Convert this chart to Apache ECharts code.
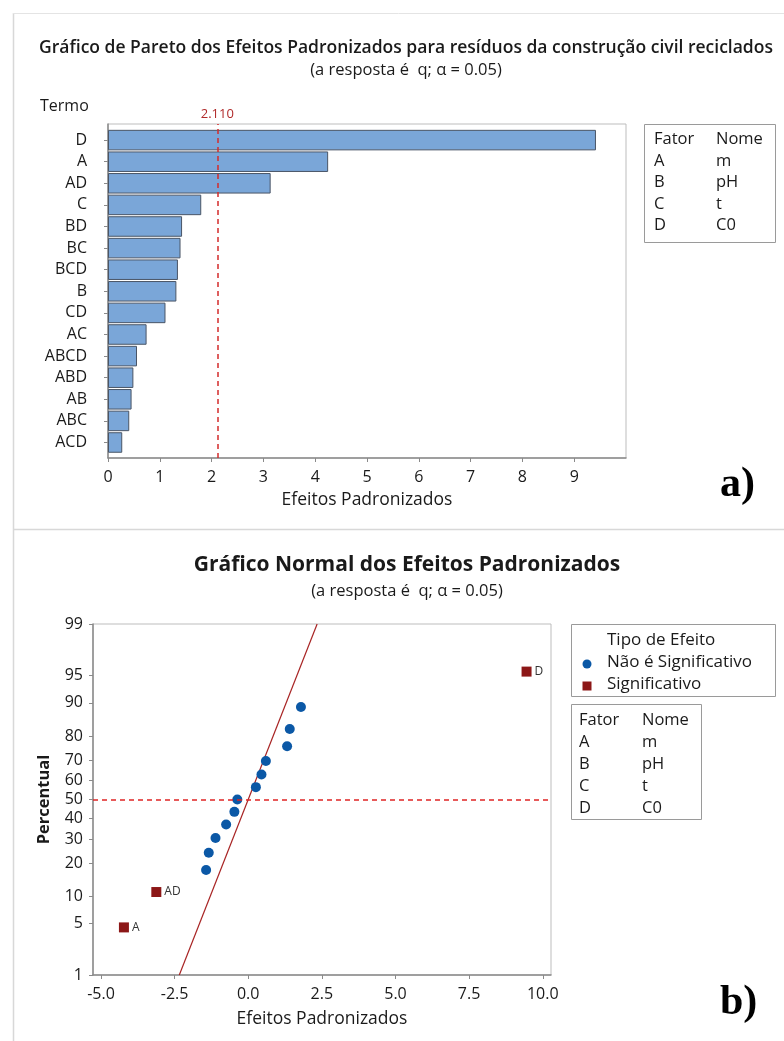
<!DOCTYPE html>
<html>
<head>
<meta charset="utf-8">
<script src="https://cdn.jsdelivr.net/npm/echarts@6/dist/echarts.min.js"></script>
<style>
html,body{margin:0;padding:0;background:#fff;}
#c{width:784px;height:1041px;}
</style>
</head>
<body>
<div id="c"></div>
<script>
// ---------- DATA ----------
var paretoTerms = ['D','A','AD','C','BD','BC','BCD','B','CD','AC','ABCD','ABD','AB','ABC','ACD'];
var paretoEffects = [9.42,4.25,3.14,1.80,1.43,1.40,1.35,1.32,1.11,0.745,0.56,0.49,0.455,0.41,0.275];
var paretoTicks = [0,1,2,3,4,5,6,7,8,9];
var criticalValue = 2.110;

var factorCodes = ['A','B','C','D'];
var factorNames = ['m','pH','t','C0'];

var nsEffects = [-1.43,-1.34,-1.11,-0.75,-0.47,-0.37,0.26,0.45,0.60,1.32,1.41,1.79];
var nsPercent = [17.5,24.0,30.5,37.0,43.5,50.0,56.5,63.0,69.5,76.0,82.5,89.0];
var sigTerms = ['A','AD','D'];
var sigEffects = [-4.22,-3.12,9.45];
var sigPercent = [4.5,11.0,95.5];
var fitEffects = [-2.34,2.34];
var fitPercent = [1,99];
var percentTicks = [1,5,10,20,30,40,50,60,70,80,90,95,99];
var effectTicks = [-5,-2.5,0,2.5,5,7.5,10];
var refPercent = 50;

// inverse normal CDF (probability-scale axis transform)
function probit(p){
  var a=[-3.969683028665376e+01,2.209460984245205e+02,-2.759285104469687e+02,1.383577518672690e+02,-3.066479806614716e+01,2.506628277459239e+00];
  var b=[-5.447609879822406e+01,1.615858368580409e+02,-1.556989798598866e+02,6.680131188771972e+01,-1.328068155288572e+01];
  var c=[-7.784894002430293e-03,-3.223964580411365e-01,-2.400758277161838e+00,-2.549732539343734e+00,4.374664141464968e+00,2.938163982698783e+00];
  var d=[7.784695709041462e-03,3.224671290700398e-01,2.445134137142996e+00,3.754408661907416e+00];
  var pl=0.02425,ph=1-pl,q,r;
  if(p<pl){q=Math.sqrt(-2*Math.log(p));return (((((c[0]*q+c[1])*q+c[2])*q+c[3])*q+c[4])*q+c[5])/((((d[0]*q+d[1])*q+d[2])*q+d[3])*q+1);}
  if(p<=ph){q=p-0.5;r=q*q;return (((((a[0]*r+a[1])*r+a[2])*r+a[3])*r+a[4])*r+a[5])*q/(((((b[0]*r+b[1])*r+b[2])*r+b[3])*r+b[4])*r+1);}
  q=Math.sqrt(-2*Math.log(1-p));return -(((((c[0]*q+c[1])*q+c[2])*q+c[3])*q+c[4])*q+c[5])/((((d[0]*q+d[1])*q+d[2])*q+d[3])*q+1);
}
function z(pct){return probit(pct/100);}
var zTicks = percentTicks.map(z);
var zMin = z(1), zMax = z(99);

var FONT = '"Open Sans", "Noto Sans", sans-serif';
var TXT = '#1a1a1a';
var BLUE = '#0b58a6';
var DRED = '#8c1717';

var chart = echarts.init(document.getElementById('c'), null, {renderer:'canvas'});

function tableTexts(x1,x2,y0,dy,fs){
  var els=[];
  var rows=[['Fator','Nome']];
  for(var i=0;i<factorCodes.length;i++) rows.push([factorCodes[i],factorNames[i]]);
  rows.forEach(function(r,i){
    els.push({type:'text',x:x1,y:y0+i*dy,style:{text:r[0],font:fs+'px '+FONT,fill:TXT,verticalAlign:'middle'}});
    els.push({type:'text',x:x2,y:y0+i*dy,style:{text:r[1],font:fs+'px '+FONT,fill:TXT,verticalAlign:'middle'}});
  });
  return els;
}

var graphics = [
  {type:'line',shape:{x1:13.5,y1:13,x2:13.5,y2:1041},style:{stroke:'#d8d8d8',lineWidth:1.5}},
  {type:'line',shape:{x1:13,y1:13.5,x2:784,y2:13.5},style:{stroke:'#e4e4e4',lineWidth:1}},
  {type:'line',shape:{x1:13,y1:529.5,x2:784,y2:529.5},style:{stroke:'#d8d8d8',lineWidth:1.5}},
  {type:'text',x:40,y:106,style:{text:'Termo',font:'16px '+FONT,fill:TXT,verticalAlign:'middle'}},
  {type:'rect',shape:{x:644.5,y:124.5,width:131,height:118},style:{fill:'none',stroke:'#9a9a9a',lineWidth:1}},
  {type:'text',x:720,y:485,style:{text:'a)',font:'bold 42px "Liberation Serif", "DejaVu Serif", serif',fill:'#000',verticalAlign:'middle'}},
  {type:'text',x:720,y:1003,style:{text:'b)',font:'bold 42px "Liberation Serif", "DejaVu Serif", serif',fill:'#000',verticalAlign:'middle'}},
  {type:'rect',shape:{x:571.5,y:624.5,width:204,height:72},style:{fill:'none',stroke:'#9a9a9a',lineWidth:1}},
  {type:'text',x:607,y:640,style:{text:'Tipo de Efeito',font:'17px '+FONT,fill:TXT,verticalAlign:'middle'}},
  {type:'text',x:607,y:662,style:{text:'Não é Significativo',font:'17px '+FONT,fill:TXT,verticalAlign:'middle'}},
  {type:'text',x:607,y:684,style:{text:'Significativo',font:'17px '+FONT,fill:TXT,verticalAlign:'middle'}},
  {type:'circle',shape:{cx:587,cy:664,r:4.5},style:{fill:BLUE}},
  {type:'rect',shape:{x:582.5,y:681.5,width:9,height:9},style:{fill:DRED}},
  {type:'rect',shape:{x:571.5,y:704.5,width:130,height:115},style:{fill:'none',stroke:'#9a9a9a',lineWidth:1}}
].concat(tableTexts(654,716,139.5,21.5,16.5)).concat(tableTexts(579,642,720,22,16.5));

var option = {
  animation:false,
  backgroundColor:'#fff',
  textStyle:{fontFamily:FONT},
  title:[
    {text:'Gráfico de Pareto dos Efeitos Padronizados para resíduos da construção civil reciclados',
     subtext:'(a resposta é  q; α = 0.05)', left:401, top:34, textAlign:'center', itemGap:5,
     textStyle:{fontSize:17.5,fontWeight:600,color:TXT,fontFamily:FONT},
     subtextStyle:{fontSize:16.5,color:TXT,fontFamily:FONT}},
    {text:'Gráfico Normal dos Efeitos Padronizados',
     subtext:'(a resposta é  q; α = 0.05)', left:402, top:550, textAlign:'center', itemGap:7,
     textStyle:{fontSize:21,fontWeight:'bold',color:TXT,fontFamily:FONT},
     subtextStyle:{fontSize:16.5,color:TXT,fontFamily:FONT}}
  ],
  grid:[
    {left:108,top:124,width:518,height:334,show:true,borderColor:'#bdbdbd',borderWidth:1,containLabel:false},
    {left:108,top:129.3,width:518,height:324,containLabel:false},
    {left:93,top:624,width:458,height:351,show:true,borderColor:'#bdbdbd',borderWidth:1,containLabel:false}
  ],
  xAxis:[
    {gridIndex:0,type:'value',min:0,max:10,interval:1,
     axisLine:{show:true,lineStyle:{color:'#8a8a8a',width:1.5}},
     axisTick:{show:true,length:4,lineStyle:{color:'#8a8a8a'},customValues:paretoTicks},
     axisLabel:{color:TXT,fontSize:16,margin:11,customValues:paretoTicks},
     splitLine:{show:false},
     name:'Efeitos Padronizados',nameLocation:'middle',nameGap:33,
     nameTextStyle:{fontSize:17.5,color:TXT}},
    {gridIndex:1,type:'value',min:0,max:10,show:false},
    {gridIndex:2,type:'value',min:-5.27,max:10.28,
     axisLine:{show:true,onZero:false,lineStyle:{color:'#8a8a8a',width:1.5}},
     axisTick:{show:true,length:4,lineStyle:{color:'#8a8a8a'},customValues:effectTicks},
     axisLabel:{color:TXT,fontSize:16,margin:11,customValues:effectTicks,formatter:function(v){return v.toFixed(1);}},
     splitLine:{show:false},
     name:'Efeitos Padronizados',nameLocation:'middle',nameGap:35,
     nameTextStyle:{fontSize:17.5,color:TXT}}
  ],
  yAxis:[
    {gridIndex:0,type:'value',min:0,max:1,
     axisLine:{show:true,lineStyle:{color:'#8a8a8a',width:1.5}},
     axisTick:{show:false},axisLabel:{show:false},splitLine:{show:false}},
    {gridIndex:1,type:'category',data:paretoTerms,inverse:true,
     axisLine:{show:false},
     axisTick:{show:true,alignWithLabel:true,length:4,lineStyle:{color:'#8a8a8a'}},
     axisLabel:{color:TXT,fontSize:16,margin:21}},
    {gridIndex:2,type:'value',min:zMin,max:zMax,
     axisLine:{show:true,onZero:false,lineStyle:{color:'#8a8a8a',width:1.5}},
     axisTick:{show:true,length:4,lineStyle:{color:'#8a8a8a'},customValues:zTicks},
     axisLabel:{color:TXT,fontSize:16,margin:10,customValues:zTicks,
       formatter:function(v){var best=0,bd=1e9;for(var i=0;i<zTicks.length;i++){var dd=Math.abs(zTicks[i]-v);if(dd<bd){bd=dd;best=i;}}return String(percentTicks[best]);}},
     splitLine:{show:false},
     name:'Percentual',nameLocation:'middle',nameGap:40,
     nameTextStyle:{fontSize:16.5,fontWeight:'bold',color:TXT}}
  ],
  series:[
    {type:'scatter',xAxisIndex:0,yAxisIndex:0,data:[],silent:true,z:1,
     markLine:{symbol:'none',silent:true,animation:false,
       lineStyle:{color:'#d42b2b',type:[5,4],width:1.5,opacity:1},
       label:{show:true,position:'end',formatter:criticalValue.toFixed(3),color:'#b02a2a',fontSize:13,distance:3},
       data:[{xAxis:criticalValue}]}},
    {type:'bar',xAxisIndex:1,yAxisIndex:1,data:paretoEffects,barCategoryGap:'5%',z:3,
     itemStyle:{color:'#7aa6d8',borderColor:'#4a5566',borderWidth:1}},
    {type:'scatter',xAxisIndex:2,yAxisIndex:2,data:[],silent:true,z:1,
     markLine:{symbol:'none',silent:true,animation:false,
       lineStyle:{color:'#e02424',type:[5,4],width:1.5,opacity:1},label:{show:false},
       data:[{yAxis:z(refPercent)}]}},
    {type:'line',xAxisIndex:2,yAxisIndex:2,
     data:fitEffects.map(function(e,i){return [e,z(fitPercent[i])];}),
     symbol:'none',lineStyle:{color:'#a82424',width:1.2},z:2},
    {type:'scatter',xAxisIndex:2,yAxisIndex:2,
     data:nsEffects.map(function(e,i){return [e,z(nsPercent[i])];}),
     symbol:'circle',symbolSize:10,itemStyle:{color:BLUE,opacity:1},z:4},
    {type:'scatter',xAxisIndex:2,yAxisIndex:2,
     data:sigEffects.map(function(e,i){return {name:sigTerms[i],value:[e,z(sigPercent[i])]};}),
     symbol:'rect',symbolSize:10,itemStyle:{color:DRED,opacity:1},z:4,
     label:{show:true,position:'right',formatter:'{b}',fontSize:12,color:'#333',distance:3}}
  ],
  graphic:graphics
};
chart.setOption(option);
</script>
</body>
</html>
